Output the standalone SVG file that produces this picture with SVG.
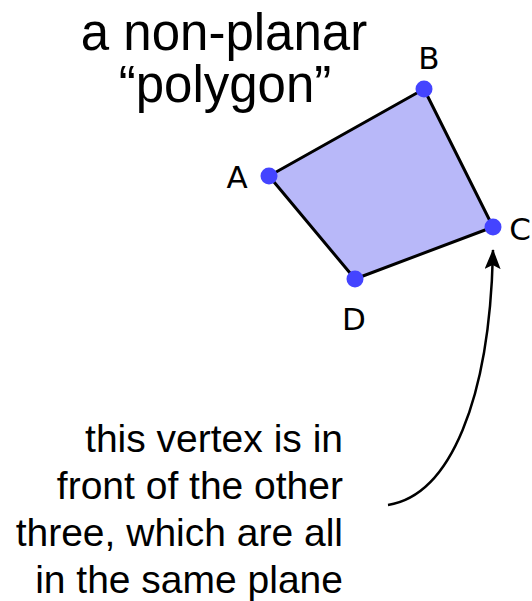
<svg xmlns="http://www.w3.org/2000/svg" width="532" height="601" viewBox="0 0 532 601">
<style>
.t{font-family:"Liberation Sans",Arial,sans-serif;fill:#000}
.title{font-size:51px;text-anchor:middle}
.note{font-size:39px;text-anchor:end}
.lbl{font-family:"DejaVu Sans","Liberation Sans",sans-serif;font-size:31px;fill:#000;text-anchor:middle}
.v{fill:#4444ff}
</style>
<defs>
<marker id="ah" markerWidth="22" markerHeight="20" refX="19" refY="8" orient="auto" markerUnits="userSpaceOnUse">
<path d="M0,0 L20,8 L0,16 L4,8 Z" fill="#000"/>
</marker>
</defs>
<g id="title">
<text class="t title" x="224" y="50">a non-planar</text>
<text class="t title" x="225" y="102">“polygon”</text>
</g>
<g id="polygon">
<polygon points="269,176 424,89 493,227 355,279" fill="#b8b8f9" stroke="#000" stroke-width="3" stroke-linejoin="round"/>
</g>
<g id="connectors">
<path d="M388,505 C450,495 490,400 493,250" fill="none" stroke="#000" stroke-width="2.5" marker-end="url(#ah)"/>
</g>
<g id="A"><circle class="v" cx="269" cy="176" r="8.5"/><text class="lbl" x="237" y="188">A</text></g>
<g id="B"><circle class="v" cx="424" cy="89" r="8.5"/><text class="lbl" x="429" y="69">B</text></g>
<g id="C"><circle class="v" cx="493" cy="227" r="8.5"/><text class="lbl" x="520" y="240">C</text></g>
<g id="D"><circle class="v" cx="355" cy="279" r="8.5"/><text class="lbl" x="354" y="330">D</text></g>
<g id="note">
<text class="t note" x="343" y="452">this vertex is in</text>
<text class="t note" x="343" y="499">front of the other</text>
<text class="t note" x="343" y="546">three, which are all</text>
<text class="t note" x="343" y="593">in the same plane</text>
</g>
</svg>
